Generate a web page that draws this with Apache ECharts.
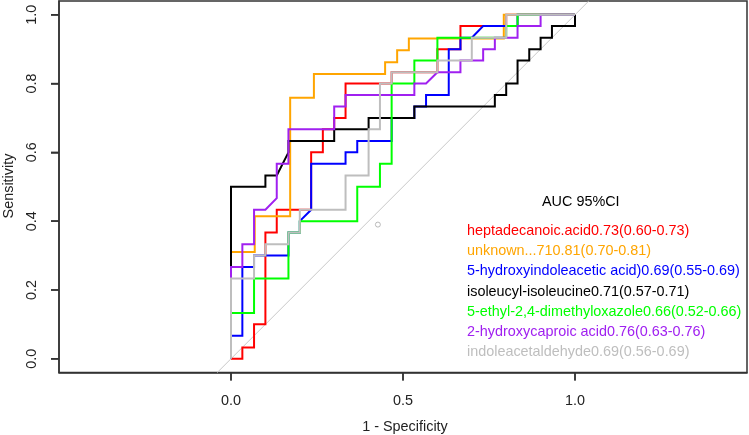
<!DOCTYPE html>
<html>
<head>
<meta charset="utf-8">
<script src="https://cdn.jsdelivr.net/npm/echarts@6/dist/echarts.min.js"></script>
<style>
html,body{margin:0;padding:0;background:#fff;}
#chart{width:749px;height:435px;}
</style>
</head>
<body>
<div id="chart"></div>
<script>
// ---- data (1 - specificity, sensitivity) ----
var names = ['heptadecanoic.acid', 'unknown...71', '5-hydroxyindoleacetic acid)', 'isoleucyl-isoleucine', '5-ethyl-2,4-dimethyloxazole', '2-hydroxycaproic acid', 'indoleacetaldehyde'];
var aucValues = ['0.73', '0.81', '0.69', '0.71', '0.66', '0.76', '0.69'];
var ciLow = ['0.60', '0.70', '0.55', '0.57', '0.52', '0.63', '0.56'];
var ciHigh = ['0.73', '0.81', '0.69', '0.71', '0.66', '0.76', '0.69'];
var colors = ['#FF0000', '#FFA500', '#0000FF', '#000000', '#00FF00', '#A020F0', '#BEBEBE'];

var red_fpr = [0,0.033,0.033,0.067,0.067,0.1,0.1,0.133,0.133,0.233,0.233,0.267,0.267,0.3,0.3,0.333,0.333,0.467,0.467,0.6,0.6,0.667,0.667,0.8,0.8,1];
var red_tpr = [0,0,0.033,0.033,0.1,0.1,0.367,0.367,0.433,0.433,0.6,0.6,0.667,0.667,0.7,0.7,0.8,0.8,0.833,0.833,0.9,0.9,0.967,0.967,1,1];

var orange_fpr = [0,0,0.069,0.069,0.172,0.172,0.241,0.241,0.448,0.448,0.483,0.483,0.517,0.517,0.793,0.793,1];
var orange_tpr = [0,0.310,0.310,0.414,0.414,0.759,0.759,0.828,0.828,0.862,0.862,0.897,0.897,0.931,0.931,1,1];

var blue_fpr = [0,0,0.033,0.033,0.067,0.067,0.167,0.167,0.2,0.2,0.233,0.233,0.333,0.333,0.367,0.367,0.467,0.467,0.533,0.533,0.567,0.567,0.633,0.633,0.667,0.667,0.7,0.733,0.833,0.833,1];
var blue_tpr = [0,0.067,0.067,0.267,0.267,0.3,0.3,0.367,0.367,0.4,0.433,0.567,0.567,0.6,0.6,0.633,0.633,0.7,0.7,0.733,0.733,0.767,0.767,0.9,0.9,0.933,0.933,0.967,0.967,1,1];

var black_fpr = [0,0,0.1,0.1,0.133,0.167,0.167,0.3,0.3,0.4,0.4,0.533,0.533,0.767,0.767,0.8,0.8,0.833,0.833,0.867,0.867,0.9,0.9,0.933,0.933,1,1];
var black_tpr = [0,0.5,0.5,0.533,0.533,0.6,0.633,0.633,0.667,0.667,0.7,0.7,0.733,0.733,0.767,0.767,0.8,0.8,0.867,0.867,0.9,0.9,0.933,0.933,0.967,0.967,1];

var green_fpr = [0,0,0.067,0.067,0.167,0.167,0.2,0.2,0.367,0.367,0.433,0.433,0.467,0.467,0.533,0.533,0.6,0.6,0.8,0.8,0.833,0.833,1];
var green_tpr = [0,0.133,0.133,0.233,0.233,0.367,0.367,0.4,0.4,0.5,0.5,0.567,0.567,0.8,0.8,0.867,0.867,0.933,0.933,0.967,0.967,1,1];

var purple_fpr = [0,0,0.033,0.033,0.067,0.067,0.1,0.133,0.133,0.167,0.167,0.3,0.3,0.333,0.333,0.533,0.533,0.567,0.6,0.667,0.667,0.733,0.733,0.767,0.767,0.833,0.833,0.9,0.9,1];
var purple_tpr = [0,0.267,0.267,0.333,0.333,0.433,0.433,0.467,0.567,0.567,0.667,0.667,0.733,0.733,0.767,0.767,0.8,0.8,0.833,0.833,0.867,0.867,0.9,0.9,0.933,0.933,0.967,0.967,1,1];

var grey_fpr = [0,0,0.067,0.067,0.1,0.1,0.167,0.167,0.2,0.2,0.333,0.333,0.4,0.4,0.433,0.433,0.467,0.467,0.6,0.6,0.7,0.7,0.8,0.8,1];
var grey_tpr = [0,0.233,0.233,0.3,0.3,0.333,0.333,0.367,0.367,0.433,0.433,0.533,0.533,0.667,0.667,0.8,0.8,0.833,0.833,0.867,0.867,0.933,0.933,1,1];

var markerPoint = [0.427, 0.39];
var xTicks = [0, 0.5, 1];
var yTicks = [0, 0.2, 0.4, 0.6, 0.8, 1];
var legendHeader = 'AUC 95%CI';

// ---- build ----
var curves = [
  [red_fpr, red_tpr], [orange_fpr, orange_tpr], [blue_fpr, blue_tpr], [black_fpr, black_tpr],
  [green_fpr, green_tpr], [purple_fpr, purple_tpr], [grey_fpr, grey_tpr]
];
function zip(a, b) { return a.map(function (v, i) { return [v, b[i]]; }); }

var FONT = 'Liberation Sans, Arial, sans-serif';
var FS = 14.4;
var X_MIN = -0.5, X_MAX = 1.5, Y_MIN = -0.04, Y_MAX = 1.04;
var TICK_LEN = 8;

var series = [];
series.push({
  type: 'line', silent: true, data: [[-0.04, -0.04], [1.04, 1.04]],
  showSymbol: false, lineStyle: { color: '#C8C8C8', width: 1 }
});
curves.forEach(function (c, i) {
  series.push({
    name: names[i], type: 'line', data: zip(c[0], c[1]), showSymbol: false,
    lineStyle: { color: colors[i], width: 2, join: 'miter', cap: 'butt' },
    itemStyle: { color: colors[i] }
  });
});
series.push({
  type: 'scatter', data: [markerPoint], symbol: 'circle', symbolSize: 5,
  itemStyle: { color: 'rgba(0,0,0,0)', borderColor: '#AAAAAA', borderWidth: 1 }
});

// tick marks placed through the axis scales (outward, R style)
series.push({
  type: 'custom', silent: true, clip: false,
  data: xTicks.map(function (v) { return [v, Y_MIN]; }),
  renderItem: function (params, api) {
    var p = api.coord([api.value(0), Y_MIN]);
    return { type: 'line', shape: { x1: p[0], y1: p[1], x2: p[0], y2: p[1] + TICK_LEN }, style: { stroke: '#333', lineWidth: 1.5 } };
  }
});
series.push({
  type: 'custom', silent: true, clip: false,
  data: yTicks.map(function (v) { return [X_MIN, v]; }),
  renderItem: function (params, api) {
    var p = api.coord([X_MIN, api.value(1)]);
    return { type: 'line', shape: { x1: p[0], y1: p[1], x2: p[0] - TICK_LEN, y2: p[1] }, style: { stroke: '#333', lineWidth: 1.5 } };
  }
});

var graphics = [];
graphics.push({ type: 'text', style: { text: legendHeader, x: 542, y: 202, fill: '#000', font: FS + 'px ' + FONT, textVerticalAlign: 'middle' } });
names.forEach(function (n, i) {
  graphics.push({ type: 'text', style: {
    text: n + aucValues[i] + '(' + ciLow[i] + '-' + ciHigh[i] + ')',
    x: 467, y: 231 + i * 20.2, fill: colors[i], font: FS + 'px ' + FONT, textVerticalAlign: 'middle'
  } });
});
graphics.push({ type: 'text', style: { text: '1 - Specificity', x: 405, y: 427, fill: '#222', font: FS + 'px ' + FONT, textAlign: 'center', textVerticalAlign: 'middle' } });
graphics.push({ type: 'text', rotation: Math.PI / 2, x: 9, y: 186, style: { text: 'Sensitivity', x: 0, y: 0, fill: '#222', font: FS + 'px ' + FONT, textAlign: 'center', textVerticalAlign: 'middle' } });

var chart = echarts.init(document.getElementById('chart'));
chart.setOption({
  animation: false,
  backgroundColor: '#fff',
  grid: { left: 59, top: 1, width: 688, height: 371.5, show: true, borderColor: '#333', borderWidth: 1.5 },
  xAxis: {
    type: 'value', min: X_MIN, max: X_MAX, position: 'bottom',
    axisLine: { show: true, onZero: false, lineStyle: { color: '#333', width: 1.5 } }, splitLine: { show: false },
    axisTick: { show: true, customValues: xTicks, length: TICK_LEN, lineStyle: { color: '#333', width: 1.5 } },
    axisLabel: { customValues: xTicks, margin: 22, formatter: function (v) { return v.toFixed(1); }, fontSize: FS, fontFamily: FONT, color: '#222' }
  },
  yAxis: {
    type: 'value', min: Y_MIN, max: Y_MAX, position: 'left',
    axisLine: { show: true, onZero: false, lineStyle: { color: '#333', width: 1.5 } }, splitLine: { show: false },
    axisTick: { show: true, customValues: yTicks, length: TICK_LEN, lineStyle: { color: '#333', width: 1.5 } },
    axisLabel: { customValues: yTicks, rotate: 90, margin: 20, formatter: function (v) { return v.toFixed(1); }, fontSize: FS, fontFamily: FONT, color: '#222' }
  },
  series: series,
  graphic: graphics
});
</script>
</body>
</html>
